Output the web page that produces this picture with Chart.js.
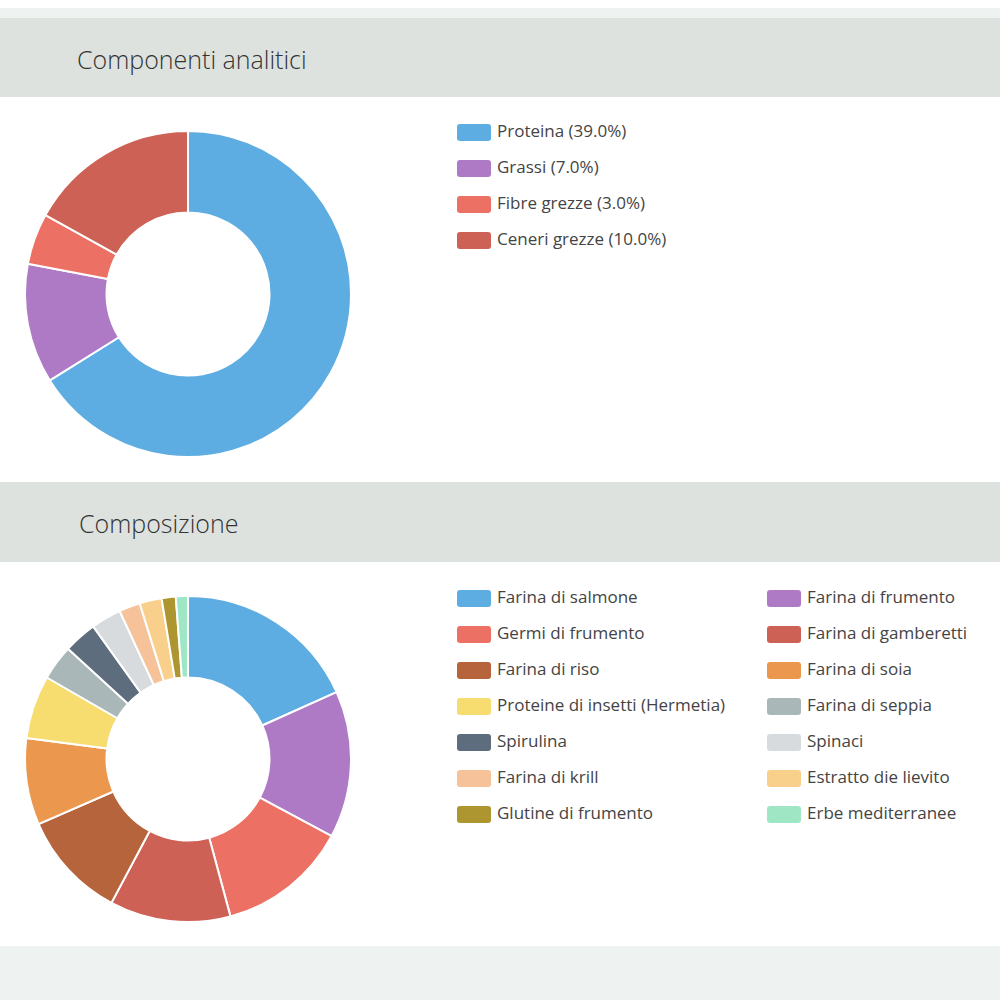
<!DOCTYPE html>
<html>
<head>
<meta charset="utf-8">
<script src="https://cdn.jsdelivr.net/npm/chart.js@4"></script>
<style>
  body { margin:0; width:1000px; height:1000px; background:#eef2f0; font-family:"Open Sans", sans-serif; position:relative; overflow:hidden; }
  .strip { position:absolute; left:0; top:0; width:1000px; height:8px; background:#fff; }
  .head { position:absolute; left:0; width:1000px; height:80px; background:#dde2de; }
  .head span { position:absolute; top:24px; font-size:25px; font-weight:300; color:#333; }
  .panel { position:absolute; left:0; width:1000px; background:#fff; }
  .chart { position:absolute; width:328px; height:328px; }
  .legend { position:absolute; font-size:17px; color:#444; }
  .item { position:absolute; white-space:nowrap; height:20px; line-height:20px; }
  .box { position:absolute; left:0; top:1px; width:34px; height:17px; border-radius:3px; }
  .item span { position:absolute; left:40px; top:-2px; }
</style>
</head>
<body>
<div class="strip"></div>
<div class="head" style="top:18px"><span style="left:77px">Componenti analitici</span></div>
<div class="panel" style="top:97px;height:385px"></div>
<div class="head" style="top:482px"><span style="left:79px">Composizione</span></div>
<div class="panel" style="top:562px;height:384px"></div>
<div class="chart" style="left:24px;top:130px"><canvas id="c1"></canvas></div>
<div class="chart" style="left:24px;top:595px"><canvas id="c2"></canvas></div>
<div class="legend" id="l1"></div>
<div class="legend" id="l2"></div>
<script>
const analyticLabels = ['Proteina', 'Grassi', 'Fibre grezze', 'Ceneri grezze'];
const analyticValues = [39.0, 7.0, 3.0, 10.0];
const analyticColors = ['#5dade2', '#af7ac5', '#ec7063', '#cd6155'];

const compLabels = ['Farina di salmone', 'Farina di frumento', 'Germi di frumento', 'Farina di gamberetti',
  'Farina di riso', 'Farina di soia', 'Proteine di insetti (Hermetia)', 'Farina di seppia', 'Spirulina',
  'Spinaci', 'Farina di krill', 'Estratto die lievito', 'Glutine di frumento', 'Erbe mediterranee'];
const compValues = [18.3, 14.6, 13, 12, 10.7, 8.6, 6.3, 3.5, 3.3, 3, 2.1, 2.2, 1.4, 1.2];
const compColors = ['#5dade2', '#af7ac5', '#ec7063', '#cd6155', '#b5643c', '#eb984e', '#f7dc6f', '#aab7b8',
  '#5d6d7e', '#d7dbdd', '#f5c29a', '#f8d08c', '#ad952f', '#9ee6c4'];

function donut(id, labels, values, colors) {
  new Chart(document.getElementById(id), {
    type: 'doughnut',
    data: { labels: labels, datasets: [{ data: values, backgroundColor: colors, borderColor: '#fff', borderWidth: 2 }] },
    options: {
      responsive: true, maintainAspectRatio: false, animation: false, cutout: '50%',
      plugins: { legend: { display: false }, tooltip: { enabled: false } }
    }
  });
}
donut('c1', analyticLabels, analyticValues, analyticColors);
donut('c2', compLabels, compValues, compColors);

function legend(id, texts, colors, cols, x0, y0, colW) {
  const el = document.getElementById(id);
  texts.forEach((t, i) => {
    const d = document.createElement('div');
    d.className = 'item';
    d.style.left = (x0 + (i % cols) * colW) + 'px';
    d.style.top = (y0 + Math.floor(i / cols) * 36) + 'px';
    d.innerHTML = '<div class="box" style="background:' + colors[i] + '"></div><span>' + t + '</span>';
    el.appendChild(d);
  });
}
legend('l1', analyticLabels.map((l, i) => l + ' (' + analyticValues[i].toFixed(1) + '%)'), analyticColors, 1, 457, 123, 0);
legend('l2', compLabels, compColors, 2, 457, 589, 310);
</script>
</body>
</html>
